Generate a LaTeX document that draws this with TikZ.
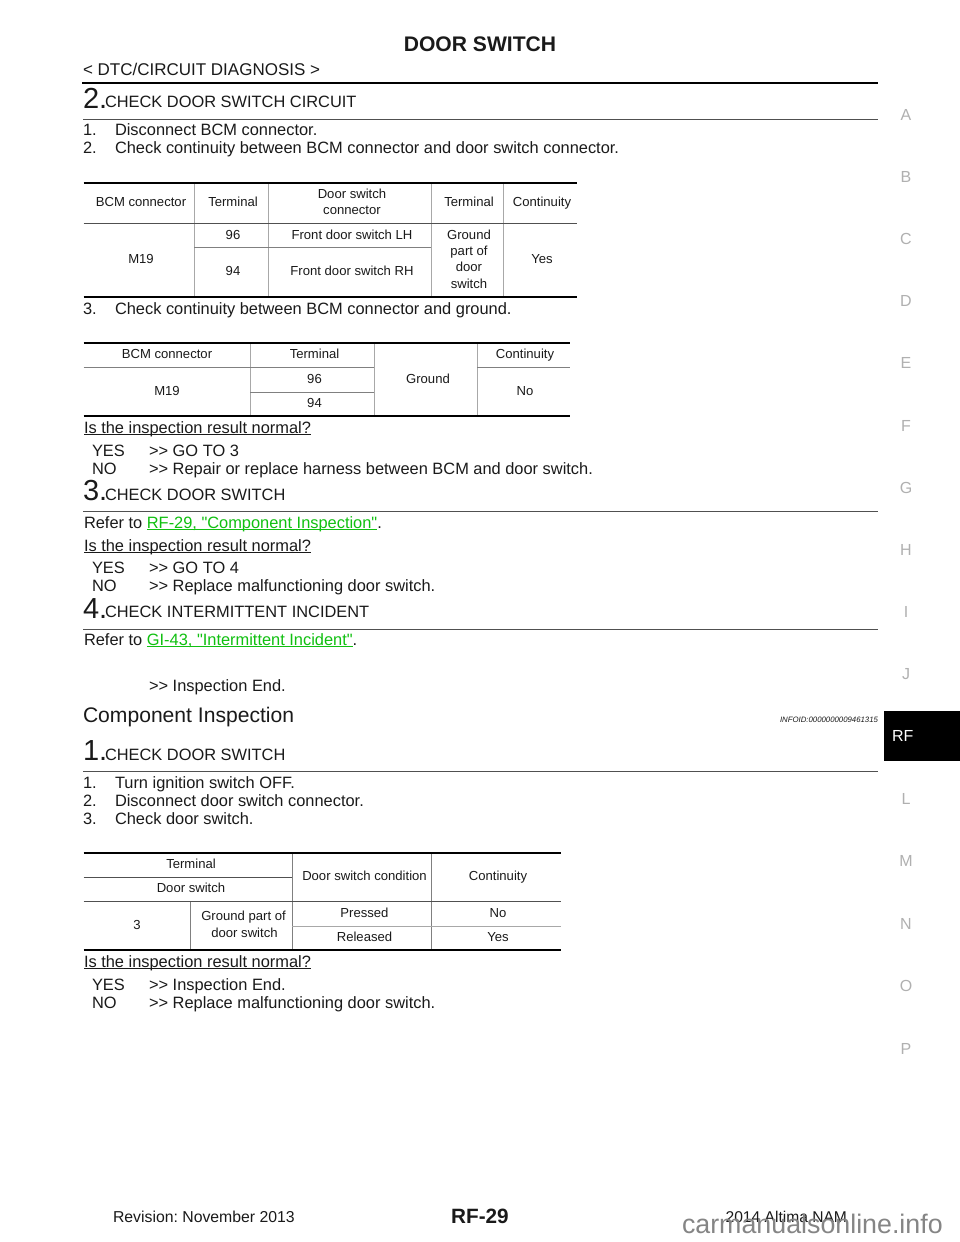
\documentclass[tikz,border=0pt]{standalone}
\usepackage{fontspec}
\setmainfont{Liberation Sans}[Ligatures=TeXOff]
\AtBeginDocument{\frenchspacing}
\definecolor{ink}{HTML}{1A1A1A}
\definecolor{linkgreen}{HTML}{10C010}
\definecolor{sidegray}{HTML}{B0B0B0}
\definecolor{cellrule}{HTML}{A8A8A8}
\definecolor{midrule}{HTML}{808080}
\definecolor{stepsrule}{HTML}{505050}
\newcounter{tn}
\newsavebox{\ulbox}
\newcommand{\ulined}[1]{\sbox{\ulbox}{#1}\rlap{\rule[-2pt]{\wd\ulbox}{0.8pt}}\usebox{\ulbox}}
\newcommand{\tx}[4][body]{\stepcounter{tn}\node[#1] (t\arabic{tn}) at (#2,#3) {#4};}
\tikzset{
  every node/.style={inner sep=0pt,outer sep=0pt,text=ink},
  body/.style={anchor=base west,font=\fontsize{16.4}{18}\selectfont},
  bigno/.style={anchor=base west,font=\fontsize{29}{30}\selectfont},
  cell/.style={anchor=base,font=\fontsize{13.1}{16}\selectfont},
  side/.style={anchor=base,font=\fontsize{16}{18}\selectfont,text=sidegray},
  thick rule/.style={draw=black,line width=2pt},
  steprule/.style={draw=stepsrule,line width=1pt},
  thin rule/.style={draw=cellrule,line width=0.9pt},
  mid rule/.style={draw=midrule,line width=0.8pt},
}
\begin{document}
\begin{tikzpicture}[x=1pt,y=-1pt]
\useasboundingbox[fill=white] (0,0) rectangle (960,1242);
% header
\tx[anchor=base,font=\fontsize{21.1}{22}\bfseries\selectfont]{480}{51}{DOOR SWITCH}
\tx[anchor=base west,font=\fontsize{17}{18}\selectfont]{83}{75}{< DTC/CIRCUIT DIAGNOSIS >}
\draw[thick rule] (82,83) -- (878,83);
% step 2
\tx[bigno]{83}{108}{2.}
\tx{105}{107}{CHECK DOOR SWITCH CIRCUIT}
\draw[steprule] (83,119) -- (878,119);
\tx{83}{135}{1.}\tx{115}{135}{Disconnect BCM connector.}
\tx{83}{153}{2.}\tx{115}{153}{Check continuity between BCM connector and door switch connector.}
% table 1
\foreach \x in {194,268,431,503} \draw[thin rule] (\x,183) -- (\x,297);
\draw[steprule] (83.5,223) -- (577,223);
\draw[mid rule] (194,247.5) -- (431,247.5);
\draw[thick rule] (83.5,183) -- (577,183);
\draw[thick rule] (83.5,297) -- (577,297);
\tx[cell]{141}{206}{BCM connector}
\tx[cell]{233}{206}{Terminal}
\tx[cell]{352}{198}{Door switch}
\tx[cell]{352}{214}{connector}
\tx[cell]{469}{206}{Terminal}
\tx[cell]{542}{206}{Continuity}
\tx[cell]{141}{263}{M19}
\tx[cell]{233}{239}{96}
\tx[cell]{352}{239}{Front door switch LH}
\tx[cell]{233}{275.5}{94}
\tx[cell]{352}{275.5}{Front door switch RH}
\tx[cell]{469}{239}{Ground}
\tx[cell]{469}{255}{part of}
\tx[cell]{469}{271.5}{door}
\tx[cell]{469}{288}{switch}
\tx[cell]{542}{263}{Yes}
\tx{83}{314}{3.}\tx{115}{314}{Check continuity between BCM connector and ground.}
% table 2
\foreach \x in {250,374,477} \draw[thin rule] (\x,343) -- (\x,416);
\draw[mid rule] (83.5,367.5) -- (374,367.5);
\draw[mid rule] (477,367.5) -- (570,367.5);
\draw[mid rule] (250,392) -- (374,392);
\draw[thick rule] (83.5,343) -- (570,343);
\draw[thick rule] (83.5,416) -- (570,416);
\tx[cell]{167}{358}{BCM connector}
\tx[cell]{314.5}{358}{Terminal}
\tx[cell]{525}{358}{Continuity}
\tx[cell]{167}{395}{M19}
\tx[cell]{314.5}{383}{96}
\tx[cell]{314.5}{407}{94}
\tx[cell]{428}{383}{Ground}
\tx[cell]{525}{395}{No}
\tx{84}{433}{\ulined{Is the inspection result normal?}}
\tx{92}{456}{YES}\tx{149}{456}{>> GO TO 3}
\tx{92}{474}{NO}\tx{149}{474}{>> Repair or replace harness between BCM and door switch.}
% step 3
\tx[bigno]{83}{500}{3.}
\tx{105}{500}{CHECK DOOR SWITCH}
\draw[steprule] (83,511) -- (878,511);
\tx{84}{528}{Refer to \textcolor{linkgreen}{\ulined{RF-29, "Component Inspection"}}.}
\tx{84}{551}{\ulined{Is the inspection result normal?}}
\tx{92}{573}{YES}\tx{149}{573}{>> GO TO 4}
\tx{92}{591}{NO}\tx{149}{591}{>> Replace malfunctioning door switch.}
% step 4
\tx[bigno]{83}{618}{4.}
\tx{105}{617}{CHECK INTERMITTENT INCIDENT}
\draw[steprule] (83,629) -- (878,629);
\tx{84}{645}{Refer to \textcolor{linkgreen}{\ulined{GI-43, "Intermittent Incident"}}.}
\tx{149}{691}{>> Inspection End.}
% component inspection
\tx[anchor=base west,font=\fontsize{21.1}{24}\selectfont]{83}{722}{Component Inspection}
\tx[anchor=base east,font=\fontsize{7.8}{10}\itshape\selectfont]{878}{722}{INFOID:0000000009461315}
\tx[bigno]{83}{760}{1.}
\tx{105}{760}{CHECK DOOR SWITCH}
\draw[steprule] (83,771) -- (878,771);
\tx{83}{788}{1.}\tx{115}{788}{Turn ignition switch OFF.}
\tx{83}{806}{2.}\tx{115}{806}{Disconnect door switch connector.}
\tx{83}{824}{3.}\tx{115}{824}{Check door switch.}
% table 3
\draw[mid rule] (190,901) -- (190,950);
\foreach \x in {292,431} \draw[mid rule] (\x,853) -- (\x,950);
\draw[steprule,line width=.8pt] (83.5,877.5) -- (292,877.5);
\draw[steprule,line width=.8pt] (83.5,901.5) -- (561,901.5);
\draw[thin rule] (292,926) -- (561,926);
\draw[thick rule] (83.5,853) -- (561,853);
\draw[thick rule] (83.5,950) -- (561,950);
\tx[cell]{191}{868}{Terminal}
\tx[cell]{191}{892}{Door switch}
\tx[cell]{364.5}{880}{Door switch condition}
\tx[cell]{498}{880}{Continuity}
\tx[cell]{137}{929}{3}
\tx[cell]{243.5}{920.5}{Ground part of}
\tx[cell]{244.5}{937}{door switch}
\tx[cell]{364.5}{917}{Pressed}
\tx[cell]{498}{917}{No}
\tx[cell]{364.5}{941}{Released}
\tx[cell]{498}{941}{Yes}
\tx{84}{967}{\ulined{Is the inspection result normal?}}
\tx{92}{990}{YES}\tx{149}{990}{>> Inspection End.}
\tx{92}{1008}{NO}\tx{149}{1008}{>> Replace malfunctioning door switch.}
% side index
\foreach \l/\y in {A/120,B/182,C/244,D/306,E/368,F/431,G/493,H/555,I/617,J/679,L/804,M/866,N/929,O/991,P/1054}
  \tx[side]{906}{\y}{\l}
\fill[black] (884,711) rectangle (960,761);
\tx[anchor=base west,font=\fontsize{16}{18}\selectfont,text=white]{892}{741}{RF}
% footer
\tx[anchor=base west,font=\fontsize{15.8}{16}\selectfont]{113}{1222}{Revision: November 2013}
\tx[anchor=base,font=\fontsize{20.7}{22}\bfseries\selectfont]{480}{1223}{RF-29}
\tx[anchor=base east,font=\fontsize{15.6}{16}\selectfont]{847}{1222}{2014 Altima NAM}
\tx[anchor=base west,font=\fontsize{26.8}{27}\selectfont,text=black!48]{682}{1233.5}{carmanualsonline.info}
\end{tikzpicture}
\end{document}
